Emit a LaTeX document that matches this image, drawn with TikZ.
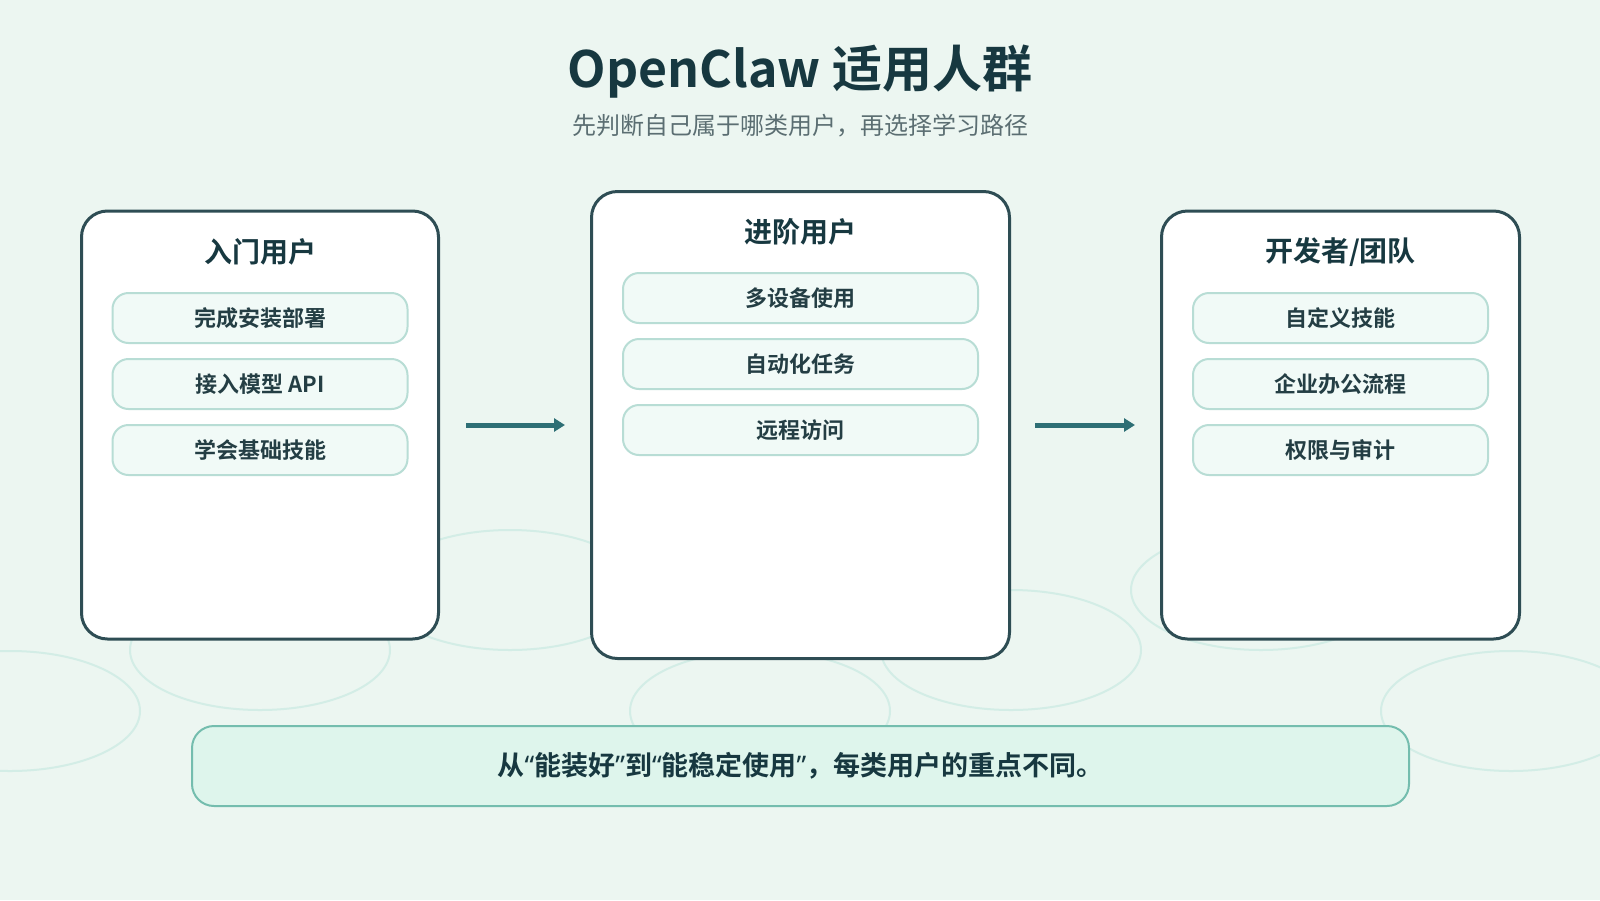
\documentclass[tikz,border=0pt]{standalone}
\usepackage{fontspec}
\setmainfont{Noto Sans CJK SC}[BoldFont={Noto Sans CJK SC Bold}]
\newfontfamily\latinq{Noto Sans}
\usetikzlibrary{arrows.meta}
\definecolor{bgc}{HTML}{ECF6F1}
\definecolor{ringc}{HTML}{D3EDE6}
\definecolor{cardline}{HTML}{2E4D54}
\definecolor{titlec}{HTML}{173840}
\definecolor{subc}{HTML}{5B6E72}
\definecolor{pillfill}{HTML}{F1FAF7}
\definecolor{pillline}{HTML}{B8DDD5}
\definecolor{pilltext}{HTML}{243E44}
\definecolor{arrc}{HTML}{2E6F75}
\definecolor{banfill}{HTML}{DEF5EC}
\definecolor{banline}{HTML}{74BDAE}
\newcommand{\myopq}{{\latinq\bfseries “}}
\newcommand{\myclq}{{\latinq\bfseries ”}}
\begin{document}
\begin{tikzpicture}[x=1pt,y=-1pt,
  ring/.style={draw=ringc, line width=2pt},
  card/.style={draw=cardline, line width=3pt, fill=white, rounded corners=26pt, inner sep=0pt},
  cardtitle/.style={text=titlec, font=\fontsize{28pt}{32pt}\selectfont\bfseries, inner sep=0pt},
  pill/.style={draw=pillline, line width=2pt, fill=pillfill, rounded corners=16pt,
    minimum height=50pt, inner sep=0pt, text=pilltext, font=\fontsize{22pt}{26pt}\selectfont\bfseries},
  flow/.style={draw=arrc, line width=5pt, -{Triangle[length=11pt,width=13pt]}},
  banner/.style={draw=banline, line width=2pt, fill=banfill, rounded corners=22pt,
    minimum width=1217pt, minimum height=80pt, inner sep=0pt, text=titlec,
    font=\fontsize{27pt}{32pt}\selectfont\bfseries}]
\fill[bgc] (0,0) rectangle (1600,900);
\useasboundingbox (0,0) rectangle (1600,900);
\foreach \cx/\cy in {10/711,260/650,510/590,760/711,1011/650,1261/590,1511/711}
  \draw[ring] (\cx,\cy) ellipse [x radius=130, y radius=60];
% title
\node[text=titlec, font=\fontsize{50pt}{60pt}\selectfont\bfseries, inner sep=0pt] (title) at (800,72) {OpenClaw 适用人群};
\node[text=subc, font=\fontsize{24pt}{30pt}\selectfont, inner sep=0pt] (sub) at (800,126) {先判断自己属于哪类用户，再选择学习路径};
% cards
\node[card, minimum width=357pt, minimum height=428pt] (c1) at (260,425) {};
\node[card, minimum width=418pt, minimum height=467pt] (c2) at (800.5,425) {};
\node[card, minimum width=358pt, minimum height=428pt] (c3) at (1340.5,425) {};
\node[cardtitle] (t1) at (260,252) {入门用户};
\node[cardtitle] (t2) at (800.5,232) {进阶用户};
\node[cardtitle] (t3) at (1340.5,252) {开发者/团队};
% pills card 1
\node[pill, minimum width=295pt] (p11) at (260,318) {完成安装部署};
\node[pill, minimum width=295pt] (p12) at (260,384) {接入模型 API};
\node[pill, minimum width=295pt] (p13) at (260,450) {学会基础技能};
% pills card 2
\node[pill, minimum width=355pt] (p21) at (800.5,298) {多设备使用};
\node[pill, minimum width=355pt] (p22) at (800.5,364) {自动化任务};
\node[pill, minimum width=355pt] (p23) at (800.5,430) {远程访问};
% pills card 3
\node[pill, minimum width=295pt] (p31) at (1340.5,318) {自定义技能};
\node[pill, minimum width=295pt] (p32) at (1340.5,384) {企业办公流程};
\node[pill, minimum width=295pt] (p33) at (1340.5,450) {权限与审计};
% arrows
\draw[flow, shorten <=26pt, shorten >=25pt] (c1.east) -- (c2.west);
\draw[flow, shorten <=24pt, shorten >=25pt] (c2.east) -- (c3.west);
% banner
\node[banner] (ban) at (800.5,766) {从\myopq 能装好\myclq 到\myopq 能稳定使用\myclq ，每类用户的重点不同。};
\end{tikzpicture}
\end{document}
